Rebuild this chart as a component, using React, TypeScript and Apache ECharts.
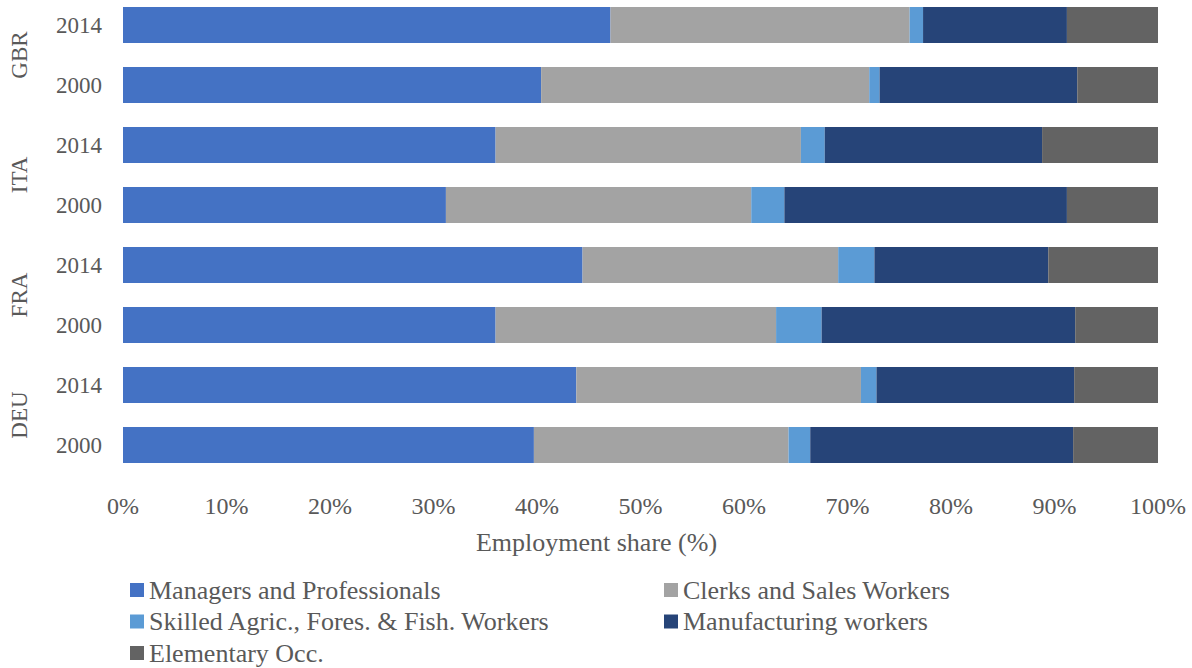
import React, { useEffect, useRef } from "react";
import * as echarts from "echarts";

const countries = ["DEU", "FRA", "ITA", "GBR"];
const years = ["2000", "2014"];
const categories = countries.flatMap((c) => years.map((y) => `${c} ${y}`));

const seriesNames = [
  "Managers and Professionals",
  "Clerks and Sales Workers",
  "Skilled Agric., Fores. & Fish. Workers",
  "Manufacturing workers",
  "Elementary Occ.",
];
// order: DEU 2000, DEU 2014, FRA 2000, FRA 2014, ITA 2000, ITA 2014, GBR 2000, GBR 2014
const managers = [39.7, 43.8, 36.0, 44.4, 31.2, 36.0, 40.4, 47.1];
const clerks = [24.6, 27.5, 27.1, 24.7, 29.5, 29.5, 31.7, 28.9];
const skilled = [2.1, 1.5, 4.4, 3.5, 3.2, 2.3, 1.0, 1.3];
const manufacturing = [25.4, 19.1, 24.5, 16.8, 27.3, 21.0, 19.1, 13.9];
const elementary = [8.2, 8.1, 8.0, 10.6, 8.8, 11.2, 7.8, 8.8];
const seriesValues = [managers, clerks, skilled, manufacturing, elementary];
const colors = ["#4472C4", "#A3A3A3", "#5B9BD5", "#264478", "#636363"];
const xTicks = { min: 0, max: 100, interval: 10 };

const FONT = "Liberation Serif";
const TXT = "#595959";

export default function App() {
  const ref = useRef<HTMLDivElement>(null);
  useEffect(() => {
    if (!ref.current) return;
    const chart = echarts.init(ref.current, null, { renderer: "svg" });
    chart.setOption({
      animation: false,
      textStyle: { fontFamily: FONT, color: TXT },
      grid: { left: 123, right: 34, top: 0, height: 480, containLabel: false },
      xAxis: {
        type: "value",
        min: xTicks.min,
        max: xTicks.max,
        interval: xTicks.interval,
        splitLine: { show: false },
        axisLine: { show: false },
        axisTick: { show: false },
        axisLabel: {
          formatter: "{value}%",
          fontSize: 24,
          color: TXT,
          fontFamily: FONT,
          margin: 19,
        },
        name: "Employment share (%)",
        nameLocation: "middle",
        nameGap: 54,
        nameTextStyle: {
          fontSize: 26,
          lineHeight: 26,
          color: TXT,
          fontFamily: FONT,
          padding: [0, 88, 0, 0],
        },
      },
      yAxis: [
        {
          type: "category",
          data: categories,
          position: "left",
          axisLine: { show: false },
          axisTick: { show: false },
          axisLabel: {
            formatter: (v: string) => v.split(" ")[1],
            fontSize: 23,
            color: TXT,
            fontFamily: FONT,
            margin: 21,
          },
        },
        {
          type: "category",
          data: countries,
          position: "left",
          axisLine: { show: false },
          axisTick: { show: false },
          axisLabel: {
            rotate: 90,
            fontSize: 23,
            color: TXT,
            fontFamily: FONT,
            margin: 92,
          },
        },
      ],
      legend: [
        {
          data: [seriesNames[0], seriesNames[2], seriesNames[4]],
          orient: "vertical",
          left: 130,
          top: 582,
          padding: 0,
          itemWidth: 14,
          itemHeight: 14,
          itemGap: 5.5,
          icon: "rect",
          textStyle: { fontSize: 26, lineHeight: 26, color: TXT, fontFamily: FONT },
        },
        {
          data: [seriesNames[1], seriesNames[3]],
          orient: "vertical",
          left: 664,
          top: 582,
          padding: 0,
          itemWidth: 14,
          itemHeight: 14,
          itemGap: 5.5,
          icon: "rect",
          textStyle: { fontSize: 26, lineHeight: 26, color: TXT, fontFamily: FONT },
        },
      ],
      series: seriesNames.map((name, i) => ({
        name,
        type: "bar",
        stack: "total",
        yAxisIndex: 0,
        barCategoryGap: "40%",
        itemStyle: { color: colors[i] },
        data: seriesValues[i],
      })),
    });
    return () => chart.dispose();
  }, []);
  return (
    <div
      ref={ref}
      style={{ position: "absolute", left: 0, top: -5, width: 1192, height: 673, background: "#fff" }}
    />
  );
}
